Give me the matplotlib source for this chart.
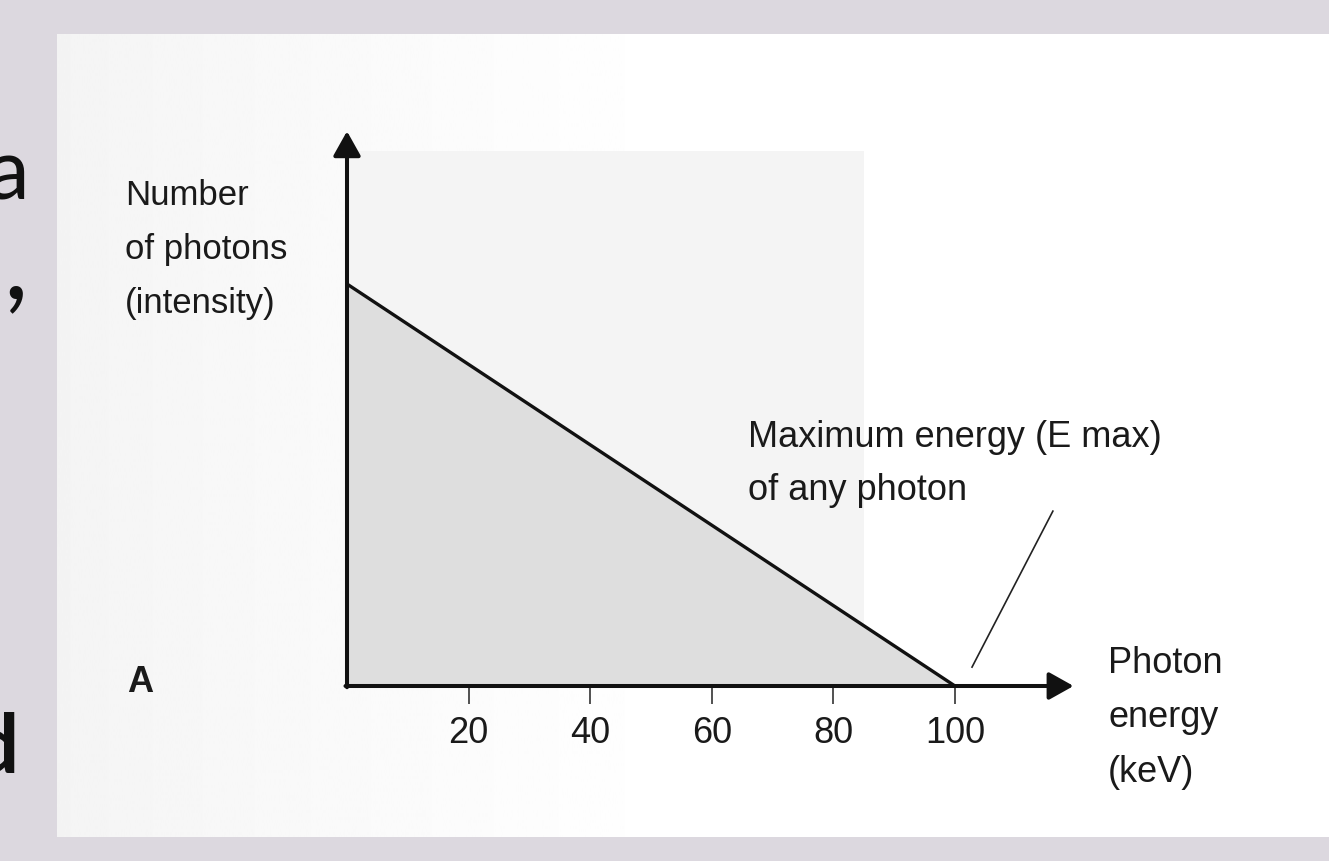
import matplotlib
matplotlib.use("Agg")
import matplotlib.pyplot as plt
import numpy as np
from matplotlib.patches import Rectangle

# ---- data ----
energy_kev = [0, 100]          # photon energy (keV)
intensity = [100, 0]           # relative number of photons
tick_values = [20, 40, 60, 80, 100]
tick_labels = ["20", "40", "60", "80", "100"]
y_label_lines = ["Number", "of photons", "(intensity)"]
x_label_lines = ["Photon", "energy", "(keV)"]
note_lines = ["Maximum energy (E max)", "of any photon"]
panel_letter = "A"

W, H = 1329, 862
X0_PX, PX_PER_KEV = 347, 6.08
Y0_PX, PX_PER_UNIT = 687, 4.02

def fx(px):
    return px / W

def fy(py):
    return 1 - py / H

fig = plt.figure(figsize=(W / 100, H / 100), dpi=100)
fig.patch.set_facecolor("#dcd8df")

# white panel with slight grey fade on its left
bg = fig.add_axes([fx(57), fy(838), fx(W - 57), (838 - 35) / H])
xs = np.linspace(0, 1, 1024)
grad = 0.955 + 0.045 * np.clip(xs / 0.5, 0, 1) ** 0.8
bg.imshow(grad[None, :], cmap="gray", vmin=0, vmax=1, aspect="auto",
          extent=[0, 1, 0, 1], interpolation="bilinear")
bg.set_axis_off()

ax = fig.add_axes([0, 0, 1, 1])
ax.set_facecolor("none")
ax.set_xlim(-X0_PX / PX_PER_KEV, (W - X0_PX) / PX_PER_KEV)
ax.set_ylim(-(H - Y0_PX) / PX_PER_UNIT, Y0_PX / PX_PER_UNIT)
for s in ["top", "right", "left"]:
    ax.spines[s].set_visible(False)
ax.spines["bottom"].set_position(("data", 0))
ax.spines["bottom"].set_visible(False)
ax.set_yticks([])
ax.set_xticks(tick_values)
ax.set_xticklabels(tick_labels, fontsize=26, color="#1a1a1a",
                   fontfamily=["Liberation Sans Narrow", "Liberation Sans", "DejaVu Sans"])
ax.tick_params(axis="x", direction="out", length=13, width=1.2, color="#333333", pad=8)

# faint grey backdrop behind the plot
ax.add_patch(Rectangle((0, 0), 85, 133, facecolor="#f4f4f4", edgecolor="none", zorder=1))

# spectrum triangle
ax.fill_between(energy_kev, intensity, 0, color="#dedede", zorder=2, lw=0)
ax.plot(energy_kev, intensity, color="#111111", lw=2.4, zorder=3, solid_capstyle="butt")

# axes arrows
arrow_style = "-|>,head_length=0.75,head_width=0.42"
ax.annotate("", xy=(119.5, 0), xytext=(-0.25, 0),
            arrowprops=dict(arrowstyle=arrow_style, mutation_scale=20, lw=2.9,
                            color="#111111", shrinkA=0, shrinkB=0), zorder=4)
ax.annotate("", xy=(0, 138), xytext=(0, -0.3),
            arrowprops=dict(arrowstyle=arrow_style, mutation_scale=20, lw=2.9,
                            color="#111111", shrinkA=0, shrinkB=0), zorder=4)

# pointer line for max energy
ax.plot([102.8, 116.1], [4.7, 43.5], color="#222222", lw=1.2, zorder=4)

lab_font = ["Liberation Sans", "DejaVu Sans"]
txt_color = "#1a1a1a"

for line, base in zip(y_label_lines, [205, 259, 313]):
    fig.text(fx(125), fy(base), line, fontsize=25, family=lab_font,
             color=txt_color, va="baseline", ha="left")

for line, base in zip(x_label_lines, [673, 727, 782]):
    fig.text(fx(1108), fy(base), line, fontsize=26, family=lab_font,
             color=txt_color, va="baseline", ha="left")

for line, base in zip(note_lines, [447, 500]):
    fig.text(fx(748), fy(base), line, fontsize=26, family=lab_font,
             color=txt_color, va="baseline", ha="left")

fig.text(fx(127), fy(692), panel_letter, fontsize=26, fontweight="bold",
         family=["Liberation Sans Narrow", "Liberation Sans", "DejaVu Sans"],
         color=txt_color, va="baseline", ha="left")

# clipped slide text at the far left
slide_font = ["Lato", "Open Sans", "DejaVu Sans"]
fig.text(fx(29), fy(200), "a", fontsize=62, family=slide_font, color="#111111",
         va="baseline", ha="right")
fig.text(fx(28), fy(298), ",", fontsize=78, family=slide_font,
         color="#111111", va="baseline", ha="right")
fig.text(fx(19), fy(773), "d", fontsize=60, fontweight="bold", family=slide_font,
         color="#111111", va="baseline", ha="right")

fig.savefig("out.png", dpi=100, facecolor=fig.get_facecolor())
